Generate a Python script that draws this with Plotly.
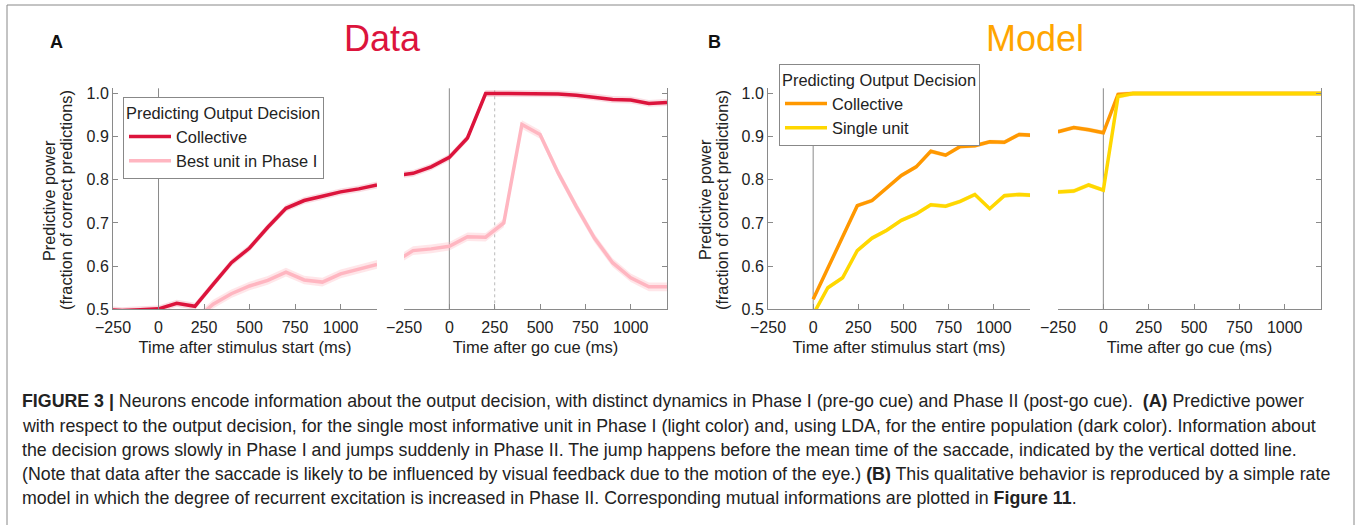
import plotly.graph_objects as go

W, H = 1360, 525

# ---------------- data ----------------
# Panel A (Data): Phase I (aligned to stimulus start)
t_data_phase1 = [-300, -200, -100, 0, 100, 200, 300, 400, 500, 600, 700, 800, 900, 1000, 1100, 1200]
data_collective_phase1 = [0.500, 0.497, 0.499, 0.501, 0.514, 0.507, 0.558, 0.608, 0.642, 0.690,
                          0.734, 0.752, 0.762, 0.772, 0.779, 0.788]
data_best_unit_phase1 = [0.470, 0.470, 0.475, 0.478, 0.480, 0.475, 0.512, 0.536, 0.554, 0.567,
                         0.586, 0.568, 0.563, 0.582, 0.593, 0.604]

# Panel A (Data): Phase II (aligned to go cue)
t_data_phase2 = [-300, -200, -100, 0, 100, 200, 300, 400, 500, 600, 700, 800, 900, 1000, 1100, 1200]
data_collective_phase2 = [0.810, 0.815, 0.830, 0.852, 0.897, 1.000, 1.000, 1.000, 1.000, 0.999,
                          0.996, 0.992, 0.986, 0.985, 0.977, 0.979]
data_best_unit_phase2 = [0.610, 0.636, 0.640, 0.646, 0.668, 0.667, 0.700, 0.928, 0.905, 0.816,
                         0.738, 0.665, 0.608, 0.573, 0.552, 0.552]

# Panel B (Model): Phase I
t_model_phase1 = [0, 81, 163, 244, 326, 407, 488, 570, 651, 733, 814, 895, 977, 1058, 1140, 1221]
model_collective_phase1 = [0.523, 0.595, 0.668, 0.740, 0.752, 0.781, 0.810, 0.830, 0.866, 0.857,
                           0.877, 0.879, 0.888, 0.887, 0.905, 0.903]
model_single_phase1 = [0.488, 0.550, 0.573, 0.636, 0.665, 0.683, 0.706, 0.721, 0.742, 0.739,
                       0.750, 0.766, 0.733, 0.763, 0.766, 0.764]

# Panel B (Model): Phase II
t_model_phase2 = [-326, -244, -163, -81, 0, 81, 163, 244, 326, 407, 488, 570, 651, 733, 814, 895,
                  977, 1058, 1140, 1221]
model_collective_phase2 = [0.910, 0.912, 0.921, 0.916, 0.909, 0.998, 1.000, 1.000, 1.000, 1.000,
                           1.000, 1.000, 1.000, 1.000, 1.000, 1.000, 1.000, 1.000, 1.000, 1.000]
model_single_phase2 = [0.770, 0.772, 0.774, 0.788, 0.776, 0.993, 1.000, 1.000, 1.000, 1.000,
                       1.000, 1.000, 1.000, 1.000, 1.000, 1.000, 1.000, 1.000, 1.000, 1.000]

# half-width of the shaded error bands
band_data_collective = 0.008
band_data_best = 0.010
band_model = 0.005

x_ticks = [-250, 0, 250, 500, 750, 1000]
y_ticks = [0.5, 0.6, 0.7, 0.8, 0.9, 1.0]
go_cue_time = 0
saccade_mean_time = 250

# ---------------- style ----------------
FONT = "Liberation Sans"
C_DATA_COLL = "#DC143C"
C_DATA_BEST = "#FFB6C1"
C_MODEL_COLL = "#FF9800"
C_MODEL_SINGLE = "#FFD700"
AX = "#8a8a8a"
TXT = "#222222"


def rgba(hexc, a):
    hexc = hexc.lstrip("#")
    r, g, b = int(hexc[0:2], 16), int(hexc[2:4], 16), int(hexc[4:6], 16)
    return f"rgba({r},{g},{b},{a})"


fig = go.Figure()


def add_series(t, v, band, color, xa, ya, name=None, legend=None, width=3.5, alpha=0.22):
    upper = [val + band for val in v]
    lower = [val - band for val in v]
    fig.add_trace(go.Scatter(x=t, y=upper, mode="lines", line=dict(width=0, color=color),
                             xaxis=xa, yaxis=ya, showlegend=False, hoverinfo="skip"))
    fig.add_trace(go.Scatter(x=t, y=lower, mode="lines", line=dict(width=0, color=color),
                             fill="tonexty", fillcolor=rgba(color, alpha),
                             xaxis=xa, yaxis=ya, showlegend=False, hoverinfo="skip"))
    fig.add_trace(go.Scatter(x=t, y=v, mode="lines", line=dict(width=width, color=color),
                             xaxis=xa, yaxis=ya, name=name,
                             showlegend=name is not None,
                             legend=legend if legend else "legend"))


# Panel A
add_series(t_data_phase1, data_collective_phase1, band_data_collective, C_DATA_COLL, "x", "y",
           name="Collective", legend="legend", alpha=0.15)
add_series(t_data_phase1, data_best_unit_phase1, band_data_best, C_DATA_BEST, "x", "y",
           name="Best unit in Phase I", legend="legend", alpha=0.35)
add_series(t_data_phase2, data_collective_phase2, band_data_collective, C_DATA_COLL, "x2", "y2", alpha=0.15)
add_series(t_data_phase2, data_best_unit_phase2, band_data_best, C_DATA_BEST, "x2", "y2", alpha=0.35)

# Panel B
add_series(t_model_phase1, model_collective_phase1, band_model, C_MODEL_COLL, "x3", "y3",
           name="Collective", legend="legend2", alpha=0.25)
add_series(t_model_phase1, model_single_phase1, band_model, C_MODEL_SINGLE, "x3", "y3",
           name="Single unit", legend="legend2", alpha=0.3)
add_series(t_model_phase2, model_collective_phase2, band_model, C_MODEL_COLL, "x4", "y4", alpha=0.25)
add_series(t_model_phase2, model_single_phase2, band_model, C_MODEL_SINGLE, "x4", "y4", alpha=0.3)

# ---------------- axes ----------------
ydom = [1 - 309.3 / H, 1 - 88.3 / H]
xdoms = {
    "x": [113 / W, 377 / W],
    "x2": [404 / W, 667 / W],
    "x3": [768 / W, 1030 / W],
    "x4": [1058 / W, 1321 / W],
}
xtitles = {
    "x": "Time after stimulus start (ms)",
    "x2": "Time after go cue (ms)",
    "x3": "Time after stimulus start (ms)",
    "x4": "Time after go cue (ms)",
}

layout_axes = {}
for key in ["x", "x2", "x3", "x4"]:
    ykey = "y" if key == "x" else "y" + key[1:]
    xname = "xaxis" if key == "x" else "xaxis" + key[1:]
    yname = "yaxis" if key == "x" else "yaxis" + key[1:]
    layout_axes[xname] = dict(
        domain=xdoms[key], anchor=ykey, range=[-250, 1200],
        tickmode="array", tickvals=x_ticks,
        ticks="inside", ticklen=5, tickwidth=1, tickcolor=AX,
        showline=True, linecolor=AX, linewidth=1,
        showgrid=False, zeroline=False, automargin=False,
        ticklabelstandoff=3,
        tickfont=dict(family=FONT, size=16, color=TXT),
        title=dict(text=xtitles[key], font=dict(family=FONT, size=16.5, color=TXT), standoff=6),
    )
    right = key in ("x2", "x4")
    layout_axes[yname] = dict(
        domain=ydom, anchor=key, range=[0.5, 1.012],
        tickmode="array", tickvals=y_ticks, tickformat=".1f",
        side="right" if right else "left",
        showticklabels=not right,
        ticks="inside", ticklen=5, tickwidth=1, tickcolor=AX,
        showline=True, linecolor=AX, linewidth=1,
        showgrid=False, zeroline=False, automargin=False,
        tickfont=dict(family=FONT, size=16, color=TXT),
    )

fig.update_layout(**layout_axes)

# reference lines (go cue / stimulus onset, saccade mean)
for key in ["x", "x2", "x3", "x4"]:
    ykey = "y" if key == "x" else "y" + key[1:]
    fig.add_shape(type="line", xref=key, yref=ykey + " domain", x0=go_cue_time, x1=go_cue_time,
                  y0=0, y1=1, line=dict(color=AX, width=1), layer="below")
fig.add_shape(type="line", xref="x2", yref="y2 domain", x0=saccade_mean_time, x1=saccade_mean_time,
              y0=0, y1=1, line=dict(color="#bbbbbb", width=1, dash="dot"), layer="below")

# outer frame (open at bottom)
fig.add_shape(type="rect", xref="paper", yref="paper", x0=7 / W, x1=1354 / W, y0=-0.2, y1=1 - 5 / H,
              line=dict(color="#888888", width=1), fillcolor="rgba(0,0,0,0)")

ann = []
# y axis titles
for xl in (49, 705):
    ann.append(dict(text="Predictive power", x=xl / W, y=1 - 200 / H, xref="paper", yref="paper",
                    textangle=-90, showarrow=False, xanchor="center", yanchor="middle",
                    font=dict(family=FONT, size=16.3, color=TXT)))
    ann.append(dict(text="(fraction of correct predictions)", x=(xl + 17) / W, y=1 - 200 / H,
                    xref="paper", yref="paper", textangle=-90, showarrow=False,
                    xanchor="center", yanchor="middle",
                    font=dict(family=FONT, size=16.3, color=TXT)))

# panel titles
ann.append(dict(text="<b>A</b>", x=57 / W, y=1 - 42 / H, xref="paper", yref="paper", showarrow=False,
                xanchor="center", yanchor="middle", font=dict(family=FONT, size=18, color="#111")))
ann.append(dict(text="<b>B</b>", x=714 / W, y=1 - 42 / H, xref="paper", yref="paper", showarrow=False,
                xanchor="center", yanchor="middle", font=dict(family=FONT, size=18, color="#111")))
ann.append(dict(text="Data", x=382 / W, y=1 - 38 / H, xref="paper", yref="paper", showarrow=False,
                xanchor="center", yanchor="middle", font=dict(family=FONT, size=36, color=C_DATA_COLL)))
ann.append(dict(text="Model", x=1035 / W, y=1 - 38 / H, xref="paper", yref="paper", showarrow=False,
                xanchor="center", yanchor="middle", font=dict(family=FONT, size=36, color="#FFA500")))

caption_lines = [
    "<b>FIGURE 3 |</b> Neurons encode information about the output decision, with distinct dynamics in Phase I (pre-go cue) and Phase II (post-go cue).  <b>(A)</b> Predictive power",
    "with respect to the output decision, for the single most informative unit in Phase I (light color) and, using LDA, for the entire population (dark color). Information about",
    "the decision grows slowly in Phase I and jumps suddenly in Phase II. The jump happens before the mean time of the saccade, indicated by the vertical dotted line.",
    "(Note that data after the saccade is likely to be influenced by visual feedback due to the motion of the eye.) <b>(B)</b> This qualitative behavior is reproduced by a simple rate",
    "model in which the degree of recurrent excitation is increased in Phase II. Corresponding mutual informations are plotted in <b>Figure 11</b>.",
]
caption_y = [401, 426, 450, 474, 498]
for txt, yy in zip(caption_lines, caption_y):
    ann.append(dict(text=txt, x=20 / W, y=1 - yy / H, xref="paper", yref="paper", showarrow=False,
                    xanchor="left", yanchor="middle", font=dict(family=FONT, size=17.8, color=TXT)))

legend_common = dict(
    xanchor="left", yanchor="top", bgcolor="white", bordercolor="#888888", borderwidth=1,
    font=dict(family=FONT, size=16.4, color=TXT), itemwidth=42, tracegroupgap=0,
    traceorder="normal",
)
fig.update_layout(
    width=W, height=H, margin=dict(l=0, r=0, t=0, b=0),
    paper_bgcolor="white", plot_bgcolor="white", template="none",
    font=dict(family=FONT, size=16, color=TXT),
    annotations=ann,
    legend=dict(x=123 / W, y=1 - 97 / H,
                title=dict(text="Predicting Output Decision", font=dict(family=FONT, size=16.4, color=TXT)),
                **legend_common),
    legend2=dict(x=779 / W, y=1 - 64 / H,
                 title=dict(text="Predicting Output Decision", font=dict(family=FONT, size=16.4, color=TXT)),
                 **legend_common),
)

fig.write_html("out.html")
